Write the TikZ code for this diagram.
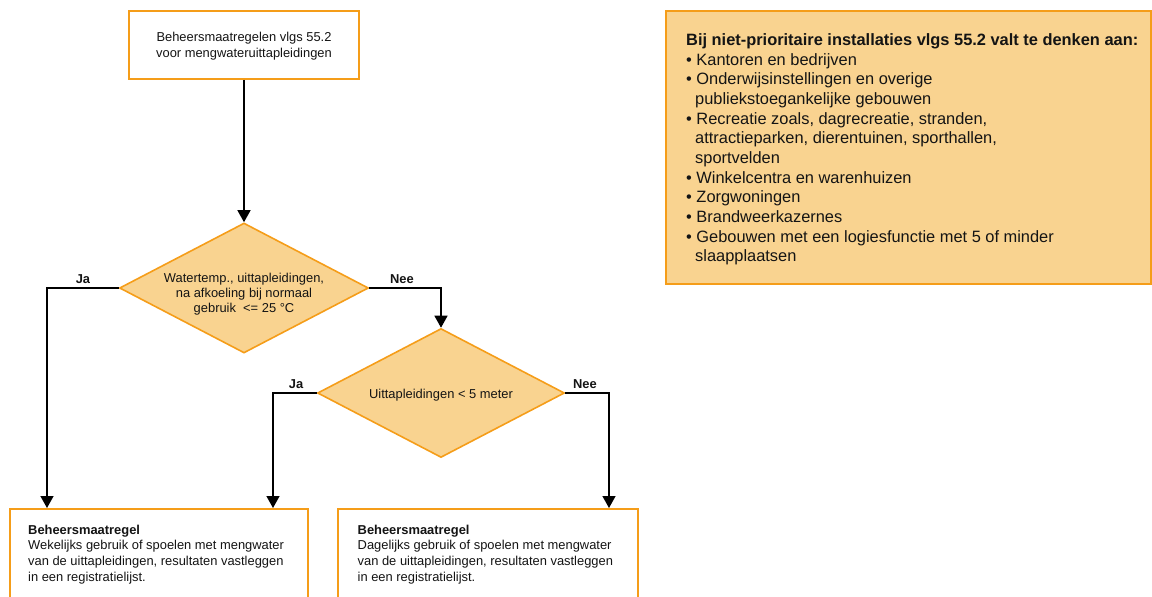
\documentclass[tikz,border=0pt]{standalone}
\usepackage{fontspec}
\setmainfont{Liberation Sans}
\usetikzlibrary{shapes.geometric,arrows.meta}
\definecolor{bord}{RGB}{245,157,25}
\definecolor{fillc}{RGB}{249,211,144}
\definecolor{ink}{RGB}{20,20,20}
\begin{document}
\begin{tikzpicture}[x=1pt,y=-1pt,
  every node/.style={text=ink},
  whitebox/.style={draw=bord, fill=white, line width=1.6pt, rectangle, inner sep=0pt},
  notebox/.style={draw=bord, fill=fillc, line width=1.6pt, rectangle, inner sep=0pt},
  dia/.style={diamond, draw=bord, fill=fillc, line width=1.6pt, inner sep=0pt, aspect=1.92},
  body/.style={font=\fontsize{12.9}{15.7}\selectfont, align=center, inner sep=0pt},
  boxtext/.style={font=\fontsize{12.9}{15.7}\selectfont, align=left, inner sep=0pt, anchor=north west},
  notetext/.style={font=\fontsize{16.4}{19.65}\selectfont, align=left, inner sep=0pt, anchor=north west},
  lbl/.style={font=\bfseries\fontsize{12.9}{15}\selectfont, inner sep=0pt},
  conn/.style={draw=black, line width=1.4pt, -{Triangle[width=13pt,length=12pt]}}
]
\useasboundingbox (0,0) rectangle (1152,597);

% top box
\node[whitebox, minimum width=230pt, minimum height=68pt] (start) at (244,45) {};
\node[body] (starttext) at (244,46) {Beheersmaatregelen vlgs 55.2\\voor mengwateruittapleidingen};

% decision 1
\node[dia, minimum width=249pt, minimum height=130pt] (d1) at (244,288) {};
\node[body, font=\fontsize{12.9}{15.2}\selectfont] (d1text) at (244,294) {Watertemp., uittapleidingen,\\na afkoeling bij normaal\\gebruik\ \ <= 25 °C};

% decision 2
\node[dia, minimum width=247pt, minimum height=129pt] (d2) at (441,393) {};
\node[body] (d2text) at (441,395) {Uittapleidingen < 5 meter};

% bottom boxes
\node[whitebox, anchor=north west, minimum width=298pt, minimum height=100pt] (b1) at (9,508) {};
\node[whitebox, anchor=north west, minimum width=300pt, minimum height=100pt] (b2) at (337,508) {};
\node[boxtext] (b1text) at (28,524.5) {\textbf{Beheersmaatregel}\\Wekelijks gebruik of spoelen met mengwater\\van de uittapleidingen, resultaten vastleggen\\in een registratielijst.};
\node[boxtext] (b2text) at (357.5,524.5) {\textbf{Beheersmaatregel}\\Dagelijks gebruik of spoelen met mengwater\\van de uittapleidingen, resultaten vastleggen\\in een registratielijst.};

% note box
\node[notebox, anchor=north west, minimum width=485pt, minimum height=273pt] (note) at (665,10) {};
\node[notetext] (notetext) at (686,33.5) {\textbf{Bij niet-prioritaire installaties vlgs 55.2 valt te denken aan:}\\
• Kantoren en bedrijven\\
• Onderwijsinstellingen en overige\\
\hspace*{9pt}publiekstoegankelijke gebouwen\\
• Recreatie zoals, dagrecreatie, stranden,\\
\hspace*{9pt}attractieparken, dierentuinen, sporthallen,\\
\hspace*{9pt}sportvelden\\
• Winkelcentra en warenhuizen\\
• Zorgwoningen\\
• Brandweerkazernes\\
• Gebouwen met een logiesfunctie met 5 of minder\\
\hspace*{9pt}slaapplaatsen};

% arrow end points
\coordinate (e1) at (47,508);
\coordinate (e2) at (273,508);
\coordinate (e3) at (609,508);

% connectors
\draw[conn] (start.south) -- (d1.north);
\draw[conn] (d1.west) -| (e1);
\draw[conn] (d1.east) -| (d2.north);
\draw[conn] (d2.west) -| (e2);
\draw[conn] (d2.east) -| (e3);

% labels
\node[lbl] (ja1) at (83,279) {Ja};
\node[lbl] (nee1) at (402,279) {Nee};
\node[lbl] (ja2) at (296,384) {Ja};
\node[lbl] (nee2) at (585,384) {Nee};
\end{tikzpicture}
\end{document}
